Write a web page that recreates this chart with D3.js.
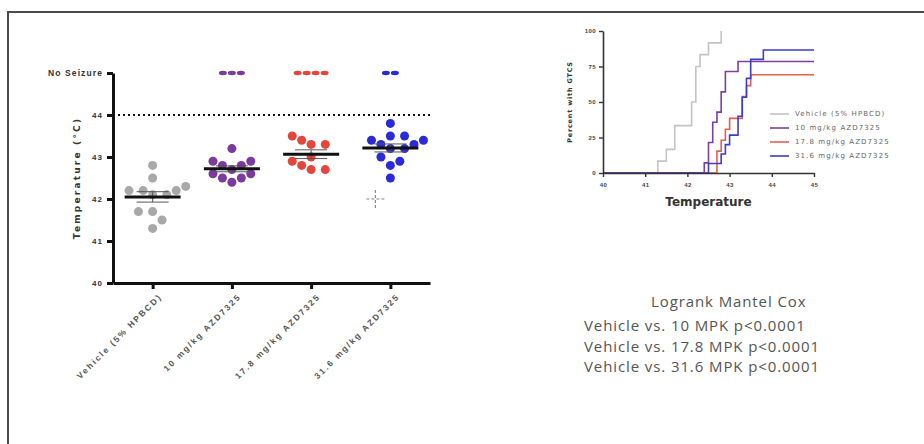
<!DOCTYPE html>
<html>
<head>
<meta charset="utf-8">
<script src="https://cdn.jsdelivr.net/npm/d3@7"></script>
<style>
  html, body { margin: 0; padding: 0; background: #fff; }
  svg { display: block; font-family: "DejaVu Sans", sans-serif; }
</style>
</head>
<body>
<svg id="chart" width="924" height="444"></svg>
<script>
// ── Data ──────────────────────────────────────────────────────────────────────
const GROUPS = ['Vehicle (5% HPBCD)', '10 mg/kg AZD7325', '17.8 mg/kg AZD7325', '31.6 mg/kg AZD7325'];
const COLORS = ['#a8a8a8', '#7b3a9c', '#e5463b', '#2a2ad8'];
const KM_COLORS = ['#c4c4c4', '#7e3f9e', '#e2604f', '#3d3dcc'];

// seizure temperatures (°C) per animal
const VEHICLE = [41.3, 41.5, 41.7, 41.7, 42.1, 42.1, 42.2, 42.2, 42.2, 42.3, 42.5, 42.8];
const MPK_10  = [42.4, 42.5, 42.5, 42.6, 42.6, 42.7, 42.8, 42.8, 42.9, 42.9, 43.2];
const MPK_178 = [42.7, 42.7, 42.8, 42.9, 43.0, 43.3, 43.3, 43.4, 43.5];
const MPK_316 = [42.5, 42.8, 42.9, 43.0, 43.2, 43.2, 43.3, 43.3, 43.4, 43.4, 43.5, 43.5, 43.8];
const SEIZURE_VALUES = [VEHICLE, MPK_10, MPK_178, MPK_316];
// animals that reached the cut-off without a seizure
const NO_SEIZURE = [0, 3, 4, 2];
// stray crosshair marker seen in the 31.6 column
const CROSS_MARKS = [{ group: 3, value: 42.0 }];

const DOT_TICKS = [40, 41, 42, 43, 44, 45];
const CUTOFF = 44;
const KM_X_TICKS = [40, 41, 42, 43, 44, 45];
const KM_Y_TICKS = [0, 25, 50, 75, 100];

const STATS_TITLE = 'Logrank Mantel Cox';
const STATS_LINES = [
    'Vehicle vs. 10 MPK p<0.0001',
    'Vehicle vs. 17.8 MPK p<0.0001',
    'Vehicle vs. 31.6 MPK p<0.0001',
];

const svg = d3.select('#chart');

// ── Frame ─────────────────────────────────────────────────────────────────────
svg.append('path')
    .attr('d', 'M8,444 L8,12 L924,12')
    .attr('fill', 'none')
    .attr('stroke', '#4a4a4a')
    .attr('stroke-width', 2);

// ── Dot plot ──────────────────────────────────────────────────────────────────
const R = 4.5;
const y = d3.scaleLinear().domain([40, 45]).range([283, 73]);
const x = d3.scalePoint().domain(GROUPS).range([113, 430]).padding(0.5);

const dot = svg.append('g');

// cut-off line
dot.append('line')
    .attr('x1', x.range()[0]).attr('x2', x.range()[1])
    .attr('y1', y(CUTOFF)).attr('y2', y(CUTOFF))
    .attr('stroke', '#111')
    .attr('stroke-width', 2)
    .attr('stroke-dasharray', '2,3');

// simple beeswarm: push points sideways until they stop overlapping
function swarm(values, cx) {
    const placed = [];
    values.slice().sort((a, b) => a - b).forEach(v => {
        const py = y(v);
        for (let k = 0; k < 40; k++) {
            const s = k === 0 ? 0 : (k % 2 ? 1 : -1) * Math.ceil(k / 2);
            const px = cx + s * R * 1.05;
            if (placed.every(p => Math.hypot(p.x - px, p.y - py) >= 2 * R + 0.8)) {
                placed.push({ x: px, y: py, v });
                break;
            }
        }
    });
    return placed;
}

GROUPS.forEach((g, i) => {
    const cx = x(g);
    const vals = SEIZURE_VALUES[i];
    dot.selectAll(null)
        .data(swarm(vals, cx))
        .join('circle')
        .attr('cx', d => d.x)
        .attr('cy', d => d.y)
        .attr('r', R)
        .attr('fill', COLORS[i]);

    // no-seizure marks sitting on the top tick
    const n = NO_SEIZURE[i];
    dot.selectAll(null)
        .data(d3.range(n))
        .join('ellipse')
        .attr('cx', k => cx + (k - (n - 1) / 2) * 9)
        .attr('cy', y(45))
        .attr('rx', 4)
        .attr('ry', 2.2)
        .attr('fill', COLORS[i]);

    // mean ± SEM
    const m = d3.mean(vals);
    const sem = d3.deviation(vals) / Math.sqrt(vals.length);
    const err = dot.append('g').attr('stroke', '#555').attr('stroke-width', 1);
    err.append('line').attr('x1', cx).attr('x2', cx).attr('y1', y(m - sem)).attr('y2', y(m + sem));
    [m - sem, m + sem].forEach(v =>
        err.append('line').attr('x1', cx - 16).attr('x2', cx + 16).attr('y1', y(v)).attr('y2', y(v)));
    dot.append('line')
        .attr('x1', cx - 28).attr('x2', cx + 28)
        .attr('y1', y(m)).attr('y2', y(m))
        .attr('stroke', '#111')
        .attr('stroke-width', 3);
});

// crosshair marker
CROSS_MARKS.forEach(c => {
    const cx = x(GROUPS[c.group]) - 15, cy = y(c.value);
    const g = dot.append('g').attr('stroke', '#888').attr('stroke-width', 1.2).attr('stroke-dasharray', '3,2');
    g.append('line').attr('x1', cx - 9).attr('x2', cx + 9).attr('y1', cy).attr('y2', cy);
    g.append('line').attr('x1', cx).attr('x2', cx).attr('y1', cy - 9).attr('y2', cy + 9);
});

// axes
const yAxis = dot.append('g')
    .attr('transform', `translate(${x.range()[0]},0)`)
    .call(d3.axisLeft(y).tickValues(DOT_TICKS).tickSize(6).tickSizeOuter(0).tickPadding(4)
        .tickFormat(d => d === 45 ? 'No Seizure' : d));
yAxis.select('.domain').attr('stroke', '#111').attr('stroke-width', 3);
yAxis.selectAll('.tick line').attr('stroke', '#111').attr('stroke-width', 3);
yAxis.selectAll('.tick text')
    .attr('fill', '#333')
    .attr('font-size', 8)
    .attr('font-weight', 'bold')
    .attr('letter-spacing', 1)
    .filter(d => d === 45)
    .attr('font-size', 8.5)
    .attr('letter-spacing', 1.1);

const xAxis = dot.append('g')
    .attr('transform', `translate(0,${y(40)})`)
    .call(d3.axisBottom(x).tickSize(6).tickSizeOuter(0));
xAxis.select('.domain').attr('stroke', '#111').attr('stroke-width', 3);
xAxis.selectAll('.tick line').attr('stroke', '#111').attr('stroke-width', 3);
xAxis.selectAll('.tick text')
    .attr('fill', '#555')
    .attr('font-size', 8.5)
    .attr('font-weight', 'bold')
    .attr('letter-spacing', 1.9)
    .attr('text-anchor', 'end')
    .attr('transform', 'rotate(-45)')
    .attr('dx', '-0.4em')
    .attr('dy', '0.9em');

dot.append('text')
    .attr('transform', `translate(80,${(y(40) + y(45)) / 2}) rotate(-90)`)
    .attr('text-anchor', 'middle')
    .attr('fill', '#333')
    .attr('font-size', 9)
    .attr('font-weight', 'bold')
    .attr('letter-spacing', 2.2)
    .text('Temperature  (°C)');

// ── Kaplan–Meier style curves ─────────────────────────────────────────────────
const kx = d3.scaleLinear().domain([40, 45]).range([603, 814]);
const ky = d3.scaleLinear().domain([0, 100]).range([173, 31]);
const km = svg.append('g');

const stepLine = d3.line().x(d => kx(d[0])).y(d => ky(d[1])).curve(d3.curveStepAfter);

GROUPS.forEach((g, i) => {
    const vals = SEIZURE_VALUES[i].slice().sort((a, b) => a - b);
    const total = vals.length + NO_SEIZURE[i];
    const pts = [[40, 0]];
    d3.rollups(vals, v => v.length, d => d).forEach(([t]) => {
        pts.push([t, 100 * vals.filter(v => v <= t).length / total]);
    });
    if (NO_SEIZURE[i] > 0) pts.push([45, pts[pts.length - 1][1]]);
    km.append('path')
        .attr('d', stepLine(pts))
        .attr('fill', 'none')
        .attr('stroke', KM_COLORS[i])
        .attr('stroke-width', 1.6);
});

const kxAxis = km.append('g')
    .attr('transform', `translate(0,${ky(0)})`)
    .call(d3.axisBottom(kx).tickValues(KM_X_TICKS).tickFormat(d3.format('d'))
        .tickSize(4).tickSizeOuter(0).tickPadding(6));
const kyAxis = km.append('g')
    .attr('transform', `translate(${kx(40)},0)`)
    .call(d3.axisLeft(ky).tickValues(KM_Y_TICKS).tickFormat(d3.format('d'))
        .tickSize(4).tickSizeOuter(0).tickPadding(3));
[kxAxis, kyAxis].forEach(a => {
    a.select('.domain').attr('stroke', '#333').attr('stroke-width', 1.6);
    a.selectAll('.tick line').attr('stroke', '#333').attr('stroke-width', 1.4);
    a.selectAll('.tick text')
        .attr('fill', '#444')
        .attr('font-size', 6)
        .attr('font-weight', 'bold')
        .attr('letter-spacing', 0.4);
});

km.append('text')
    .attr('x', (kx(40) + kx(45)) / 2).attr('y', 206)
    .attr('text-anchor', 'middle')
    .attr('fill', '#333')
    .attr('font-size', 12)
    .attr('font-weight', 'bold')
    .text('Temperature');

km.append('text')
    .attr('transform', `translate(572,${(ky(0) + ky(100)) / 2}) rotate(-90)`)
    .attr('text-anchor', 'middle')
    .attr('fill', '#333')
    .attr('font-size', 6.5)
    .attr('font-weight', 'bold')
    .attr('letter-spacing', 0.8)
    .text('Percent with GTCS');

// legend
const legend = km.selectAll('g.leg')
    .data(GROUPS)
    .join('g')
    .attr('class', 'leg')
    .attr('transform', (_, i) => `translate(770,${114 + i * 14})`);
legend.append('line')
    .attr('x1', 0).attr('x2', 19)
    .attr('stroke', (_, i) => KM_COLORS[i])
    .attr('stroke-width', 1.6);
legend.append('text')
    .attr('x', 25).attr('dy', '0.35em')
    .attr('fill', '#666')
    .attr('font-size', 7)
    .attr('letter-spacing', 1.1)
    .text(d => d);

// ── Log-rank text ─────────────────────────────────────────────────────────────
const stats = svg.append('g')
    .attr('font-family', '"Open Sans", sans-serif')
    .attr('fill', '#555')
    .attr('font-size', 15)
    .attr('letter-spacing', 0.9);
stats.append('text').attr('x', 651).attr('y', 307).text(STATS_TITLE);
stats.selectAll('text.line')
    .data(STATS_LINES)
    .join('text')
    .attr('class', 'line')
    .attr('x', 584)
    .attr('y', (_, i) => 331 + i * 20.5)
    .text(d => d);
</script>
</body>
</html>
